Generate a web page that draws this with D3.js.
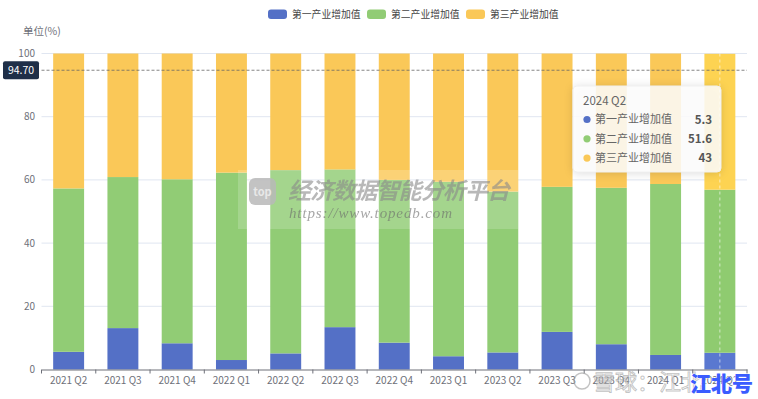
<!DOCTYPE html>
<html><head><meta charset="utf-8">
<script src="https://cdn.jsdelivr.net/npm/d3@7/dist/d3.min.js"></script>
<style>
html,body{margin:0;padding:0;background:#fff;}
svg{display:block;font-family:"Noto Sans CJK SC","Noto Sans",sans-serif;}
</style></head>
<body><svg id="c" width="758" height="399"></svg>
<script>
const categories = ["2021 Q2","2021 Q3","2021 Q4","2022 Q1","2022 Q2","2022 Q3","2022 Q4","2023 Q1","2023 Q2","2023 Q3","2023 Q4","2024 Q1","2024 Q2"];
const seriesNames = ["第一产业增加值","第二产业增加值","第三产业增加值"];
const primary   = [5.6, 13.1, 8.3, 3.0, 5.1, 13.4, 8.5, 4.2, 5.4, 11.9, 8.0, 4.6, 5.3];
const secondary = [51.7, 47.8, 51.9, 59.3, 58.0, 49.9, 51.5, 55.2, 50.9, 45.9, 49.5, 54.1, 51.6];
const tertiary  = [42.7, 39.1, 39.8, 37.7, 36.9, 36.7, 40.0, 40.6, 43.7, 42.2, 42.5, 41.3, 43];
const yTicks = [0, 20, 40, 60, 80, 100];
const pointerValue = 94.70;
const tooltipCategory = "2024 Q2";

const colors = ["#5470c6", "#91cc75", "#fac858"];
const hiColors = ["#5a78d0", "#8fcb70", "#fdd352"];

const svg = d3.select("#c");
const pLeft = 41.5, pRight = 747, pTop = 53.5, pBottom = 369.5;

const rows = categories.map((c, i) => ({cat: c, s0: primary[i], s1: secondary[i], s2: tertiary[i]}));
const stack = d3.stack().keys(["s0","s1","s2"])(rows);

const x = d3.scaleBand().domain(categories).range([pLeft, pRight]).padding(0);
const y = d3.scaleLinear().domain([0, 100]).range([pBottom, pTop]);
const barW = x.bandwidth() * 0.57;

// grid
svg.append("g").selectAll("line").data(yTicks.filter(t => t > 0)).join("line")
  .attr("x1", pLeft).attr("x2", pRight)
  .attr("y1", d => y(d)).attr("y2", d => y(d))
  .attr("stroke", "#e0e6f1").attr("stroke-width", 1);

// y labels
svg.append("g").selectAll("text").data(yTicks).join("text")
  .attr("x", 35).attr("y", d => y(d)).attr("dy", "0.35em")
  .attr("text-anchor", "end").attr("font-size", 10).attr("fill", "#6e7079")
  .text(d => d);

svg.append("text").attr("x", 23).attr("y", 35).attr("font-size", 10.5).attr("fill", "#6e7079").text("单位(%)");

// bars
stack.forEach((layer, si) => {
  svg.append("g").selectAll("rect").data(layer).join("rect")
    .attr("x", d => x(d.data.cat) + (x.bandwidth() - barW) / 2)
    .attr("width", barW)
    .attr("y", d => y(d[1]))
    .attr("height", d => y(d[0]) - y(d[1]))
    .attr("fill", d => d.data.cat === tooltipCategory ? hiColors[si] : colors[si]);
});

// x axis
const xAxis = d3.axisBottom(x).tickSize(0).tickPadding(7);
const gx = svg.append("g").attr("transform", `translate(0,${pBottom})`).call(xAxis);
gx.select(".domain").attr("stroke", "#6e7079");
gx.selectAll("text").attr("font-size", 10).attr("fill", "#6e7079").attr("font-family", '"Noto Sans CJK SC",sans-serif');
const bounds = categories.map(c => x(c)).concat([pRight]);
svg.append("g").selectAll("line").data(bounds).join("line")
  .attr("x1", d => d).attr("x2", d => d)
  .attr("y1", pBottom).attr("y2", pBottom + 4)
  .attr("stroke", "#6e7079");

// axis pointer vertical
const cx = x(tooltipCategory) + x.bandwidth() / 2;
svg.append("line").attr("x1", cx).attr("x2", cx).attr("y1", pTop).attr("y2", pBottom)
  .attr("stroke", "#ffffff").attr("stroke-opacity", 0.6).attr("stroke-dasharray", "3,3");

// axis pointer horizontal
svg.append("line").attr("x1", pLeft).attr("x2", pRight)
  .attr("y1", y(pointerValue)).attr("y2", y(pointerValue))
  .attr("stroke", "#666").attr("stroke-dasharray", "3,2").attr("stroke-width", 0.8);
svg.append("rect").attr("x", 3).attr("y", y(pointerValue) - 9).attr("width", 36).attr("height", 18)
  .attr("rx", 2).attr("fill", "#1f2f48");
svg.append("text").attr("x", 21).attr("y", y(pointerValue)).attr("dy", "0.36em")
  .attr("text-anchor", "middle").attr("font-size", 10.5).attr("fill", "#fff").text(pointerValue.toFixed(2));

// legend
const legX = [268, 367, 466];
seriesNames.forEach((n, i) => {
  svg.append("rect").attr("x", legX[i]).attr("y", 9.5).attr("width", 19).attr("height", 9.5).attr("rx", 3).attr("fill", colors[i]);
  svg.append("text").attr("x", legX[i] + 24).attr("y", 14.5).attr("dy", "0.35em").attr("font-size", 9.8).attr("fill", "#444").text(n);
});

// watermark center
const wm = svg.append("g");
wm.append("rect").attr("x", 238).attr("y", 170).attr("width", 280).attr("height", 59).attr("fill", "#fff").attr("opacity", 0.18);
wm.append("rect").attr("x", 249).attr("y", 178).attr("width", 27).attr("height", 27).attr("rx", 6).attr("fill", "#b9b9b9").attr("opacity", 0.85);
wm.append("text").attr("x", 262.5).attr("y", 192).attr("dy", "0.35em").attr("text-anchor", "middle").attr("font-size", 11).attr("font-weight", "bold").attr("fill", "#e8e8e8").text("top");
wm.append("text").attr("x", 288).attr("y", 199).attr("font-size", 23).attr("font-weight", "bold").attr("font-style", "italic")
  .attr("fill", "#8a8a8a").attr("opacity", 0.6).attr("textLength", 222).text("经济数据智能分析平台");
wm.append("text").attr("x", 289).attr("y", 218).attr("font-size", 15).attr("font-style", "italic").attr("font-family", '"Liberation Serif",serif')
  .attr("fill", "#6a6a6a").attr("opacity", 0.6).attr("textLength", 163).text("https://www.topedb.com");

// tooltip
const tt = svg.append("g");
tt.append("rect").attr("x", 573).attr("y", 86).attr("width", 148).attr("height", 86).attr("rx", 4)
  .attr("fill", "#fff").attr("fill-opacity", 0.85).attr("stroke", "#f0f0f0")
  .style("filter", "drop-shadow(0 1px 4px rgba(0,0,0,0.15))");
tt.append("text").attr("x", 583).attr("y", 101).attr("dy", "0.35em").attr("font-size", 11.5).attr("fill", "#666").text(tooltipCategory);
const idx = categories.indexOf(tooltipCategory);
const vals = [primary[idx], secondary[idx], tertiary[idx]];
seriesNames.forEach((n, i) => {
  const yy = 119.5 + i * 19.3;
  tt.append("circle").attr("cx", 587).attr("cy", yy).attr("r", 3.6).attr("fill", colors[i]);
  tt.append("text").attr("x", 595).attr("y", yy).attr("dy", "0.35em").attr("font-size", 11).attr("fill", "#666").text(n);
  tt.append("text").attr("x", 712).attr("y", yy).attr("dy", "0.35em").attr("text-anchor", "end").attr("font-size", 11.5).attr("font-weight", "bold").attr("fill", "#555").text(vals[i]);
});

// watermark bottom right
const wb = svg.append("g");
wb.append("circle").attr("cx", 582).attr("cy", 381).attr("r", 8).attr("fill", "none").attr("stroke", "#999").attr("stroke-opacity", 0.6).attr("stroke-width", 1.5);
wb.append("text").attr("x", 593).attr("y", 390).attr("font-size", 22).attr("fill", "#fff").attr("fill-opacity", 0.6)
  .attr("stroke", "#9a9a9a").attr("stroke-opacity", 0.6).attr("stroke-width", 0.9).text("雪球：江北");
wb.append("text").attr("x", 690).attr("y", 391).attr("font-size", 21).attr("font-weight", "900").attr("fill", "#3a5cff")
  .attr("stroke", "#fff").attr("stroke-width", 0.6).attr("paint-order", "stroke").text("江北号");
</script></body></html>
